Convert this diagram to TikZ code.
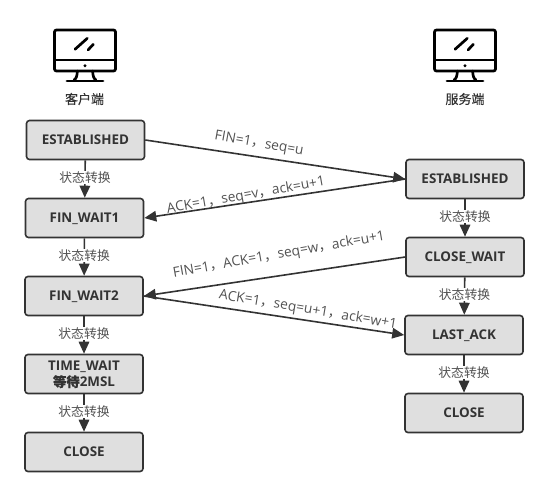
\documentclass[tikz,border=0pt]{standalone}
\usepackage{fontspec}
\setmainfont{Open Sans}
\newfontfamily\cjk{Noto Sans CJK SC}
\newfontfamily\cjkm[FakeBold=0.3]{Noto Sans CJK SC}
\usetikzlibrary{arrows.meta}
\definecolor{ink}{HTML}{333333}
\tikzset{
  x=1pt,y=-1pt,
  statebox/.style={draw=ink,line width=1.6pt,fill=black!12.5,rounded corners=3pt,minimum width=118pt,minimum height=39pt,inner sep=0pt,align=center,font=\bfseries\fontsize{13.4}{16}\selectfont,text=ink,text depth=0pt},
  conn/.style={draw=ink,line width=1.6pt,-{Triangle[length=12pt,width=10.5pt]}},
  translabel/.style={fill=white,inner sep=1pt,font=\cjk\fontsize{12.8}{14}\selectfont,text=ink!85!white,yshift=1.5pt},
  msg/.style={font=\fontsize{13.8}{14}\selectfont,text=ink!85!white,inner sep=0pt},
  titlelabel/.style={font=\cjkm\fontsize{13}{14}\selectfont,text=ink,inner sep=0pt},
  iconline/.style={draw=black,line width=2.7pt,line cap=round},
  pics/monitor/.style={code={
    \draw[draw=black,line width=2.7pt,rounded corners=2pt] (-30.5,-25) rectangle (30.5,16);
    \draw[iconline] (-30.5,5) -- (30.5,5);
    \fill (0,10.7) circle (1.6pt);
    \draw[iconline] (-10,-5.7) -- (2.3,-16.7);
    \draw[iconline] (3,-5) -- (8.3,-10.7);
    \draw[iconline] (-7.7,16) .. controls (-7.7,21) and (-9,24) .. (-11,25);
    \draw[iconline] (7.7,16) .. controls (7.7,21) and (9,24) .. (11,25);
    \draw[iconline] (-18,26) -- (18,26);
  }}
}
\begin{document}
\begin{tikzpicture}
\useasboundingbox (0,0) rectangle (548,496);
\pic at (85,55) {monitor};
\pic at (465,55) {monitor};
\node[titlelabel] (client) at (84.5,99) {客户端};
\node[titlelabel] (server) at (465,99) {服务端};
\node[statebox] (c1) at (85.5,140) {ESTABLISHED};
\node[statebox] (c2) at (84.5,218) {FIN\_WAIT1};
\node[statebox] (c3) at (84,296) {FIN\_WAIT2};
\node[statebox] (c4) at (84,374) {TIME\_WAIT\\{\cjkm 等待}2MSL};
\node[statebox] (c5) at (84,452) {CLOSE};
\node[statebox] (s1) at (465,179) {ESTABLISHED};
\node[statebox] (s2) at (465,257) {CLOSE\_WAIT};
\node[statebox] (s3) at (464,335) {LAST\_ACK};
\node[statebox] (s4) at (464,413) {CLOSE};
\foreach \a/\b in {c1/c2,c2/c3,c3/c4,c4/c5,s1/s2,s2/s3,s3/s4}{
  \draw[conn] (\a) -- (\b) node[midway,translabel] {状态转换};
}
\draw[conn] (c1.east) -- (s1.west);
\draw[conn] (s1.west) -- (c2.east);
\draw[conn] (s2.west) -- (c3.east);
\draw[conn] (c3.east) -- (s3.west);
\node[msg,rotate=-10] (m1) at (259,144) {FIN=1{\cjk ，}seq=u};
\node[msg,rotate=10] (m2) at (246,196) {ACK=1{\cjk ，}seq=v{\cjk ，}ack=u+1};
\node[msg,rotate=10] (m3) at (279,255) {FIN=1{\cjk ，}ACK=1{\cjk ，}seq=w{\cjk ，}ack=u+1};
\node[msg,rotate=-9.5] (m4) at (308,310) {ACK=1{\cjk ，}seq=u+1{\cjk ，}ack=w+1};
\end{tikzpicture}
\end{document}
